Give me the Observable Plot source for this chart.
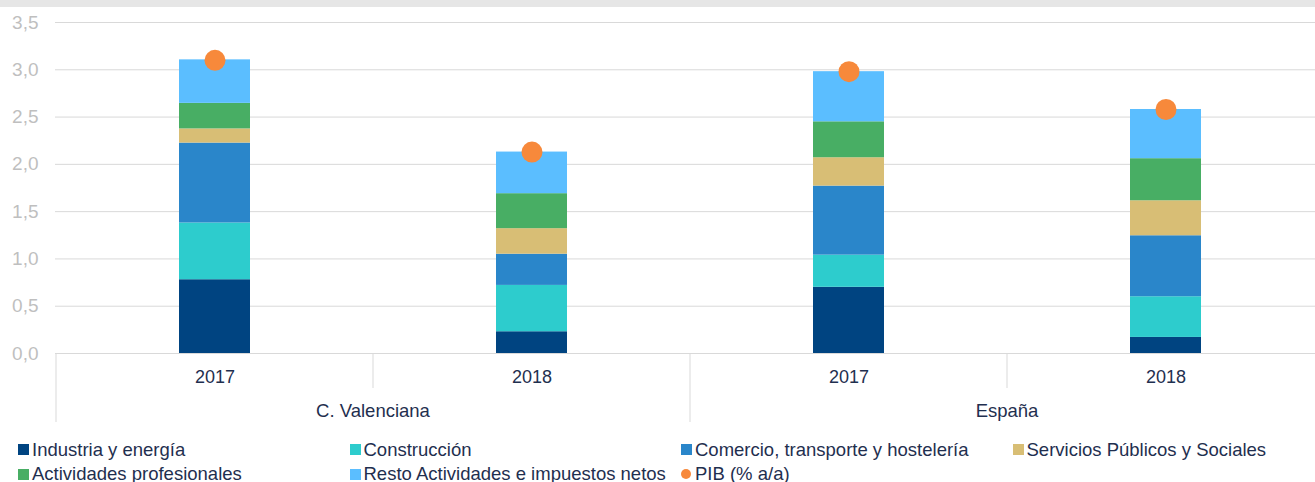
<!DOCTYPE html>
<html>
<head>
<meta charset="utf-8">
<script src="https://cdn.jsdelivr.net/npm/d3@7"></script>
<script src="https://cdn.jsdelivr.net/npm/@observablehq/plot@0.6"></script>
<style>
  body { margin: 0; background: #fff; font-family: "Liberation Sans", Arial, sans-serif; }
  #wrap { position: relative; width: 1315px; height: 482px; overflow: hidden; }
  #strip { position: absolute; left: 0; top: 0; width: 1315px; height: 7px; background: #e6e6e6; z-index: 2; }
  #chart { position: absolute; left: 0; top: 0; }
  #legend { position: absolute; left: 0; top: 0; width: 1315px; height: 482px; }
  .item { position: absolute; display: flex; align-items: center; font-size: 18.5px; color: #1f2f4f; white-space: nowrap; height: 20px; }
  .sw { width: 11px; height: 11px; margin-right: 3px; flex: none; }
  .sw.round { width: 10px; height: 10px; border-radius: 50%; margin-right: 4px; }
</style>
</head>
<body>
<div id="wrap">
  <div id="strip"></div>
  <div id="chart"></div>
  <div id="legend"></div>
</div>
<script>
// ---- data ----
const regions = ["C. Valenciana", "C. Valenciana", "España", "España"];
const years = ["2017", "2018", "2017", "2018"];
const series = [
  "Industria y energía",
  "Construcción",
  "Comercio, transporte y hostelería",
  "Servicios Públicos y Sociales",
  "Actividades profesionales",
  "Resto Actividades e impuestos netos"
];
const industria   = [0.78, 0.23, 0.70, 0.17];
const construccion = [0.60, 0.49, 0.34, 0.43];
const comercio    = [0.845, 0.33, 0.73, 0.645];
const servicios   = [0.15, 0.27, 0.30, 0.37];
const actividades = [0.27, 0.37, 0.38, 0.445];
const resto       = [0.46, 0.44, 0.53, 0.52];
const pib         = [3.10, 2.13, 2.98, 2.58];
const pibLabel = "PIB (% a/a)";
const colors = ["#004481", "#2dcccd", "#2a86ca", "#d8be75", "#48ae64", "#5bbeff"];
const pibColor = "#f7893b";
const yTicks = [0, 0.5, 1, 1.5, 2, 2.5, 3, 3.5];
const yTickLabels = ["0,0", "0,5", "1,0", "1,5", "2,0", "2,5", "3,0", "3,5"];

// ---- build tables ----
const keys = regions.map((r, i) => r + " " + years[i]);
const valuesBySeries = [industria, construccion, comercio, servicios, actividades, resto];
const data = [];
keys.forEach((k, i) => series.forEach((s, j) => data.push({ key: k, series: s, value: valuesBySeries[j][i] })));
const pibData = keys.map((k, i) => ({ key: k, pib: pib[i] }));
const yearData = keys.map((k, i) => ({ key: k, year: years[i] }));

const textColor = "#1f2f4f";
const lineColor = "#d9d9d9";

// separators and region labels, positioned through the plot's scales
function frame(index, scales) {
  const x = scales.x, y = scales.y;
  const bw = typeof x.bandwidth === "function" ? x.bandwidth() : 0;
  const centers = keys.map(k => x(k) + bw / 2);
  const step = centers[1] - centers[0];
  const y0 = y(0);
  const g = d3.create("svg:g");
  keys.forEach((k, i) => {
    const left = centers[i] - step / 2;
    const groupStart = i === 0 || regions[i] !== regions[i - 1];
    g.append("line")
      .attr("x1", left).attr("x2", left)
      .attr("y1", y0).attr("y2", y0 + (groupStart ? 69 : 35))
      .attr("stroke", lineColor);
  });
  const last = centers[centers.length - 1] + step / 2;
  g.append("line").attr("x1", last).attr("x2", last).attr("y1", y0).attr("y2", y0 + 69).attr("stroke", lineColor);
  [...new Set(regions)].forEach(r => {
    const cs = centers.filter((c, i) => regions[i] === r);
    g.append("text")
      .attr("x", d3.mean(cs)).attr("y", y0 + 64)
      .attr("text-anchor", "middle")
      .attr("fill", textColor)
      .attr("font-size", 18.5)
      .text(r);
  });
  return g.node();
}

const chart = Plot.plot({
  width: 1315,
  height: 435,
  marginTop: 22,
  marginBottom: 82,
  marginLeft: 55,
  marginRight: 0,
  style: {
    fontFamily: '"Liberation Sans", Arial, sans-serif',
    fontSize: "19px",
    color: "#bfbfbf",
    background: "transparent",
    overflow: "visible"
  },
  x: { domain: keys, range: [55, 1325], paddingInner: 0.776, paddingOuter: 0.388, axis: null },
  y: {
    domain: [0, 3.5],
    ticks: yTicks,
    tickFormat: d => yTickLabels[yTicks.indexOf(d)],
    tickSize: 0,
    tickPadding: 17,
    label: null
  },
  color: { domain: series, range: colors },
  marks: [
    Plot.ruleY(yTicks, { stroke: lineColor, strokeWidth: 1 }),
    Plot.barY(data, { x: "key", y: "value", fill: "series" }),
    Plot.dot(pibData, { x: "key", y: "pib", r: 10.5, fill: pibColor }),
    Plot.text(yearData, { x: "key", y: () => 0, text: "year", dy: 23.5, fill: textColor, fontSize: 18 }),
    frame
  ]
});
document.getElementById("chart").appendChild(chart);

// ---- legend ----
const legendItems = series.map((s, i) => ({ label: s, color: colors[i], round: false }))
  .concat([{ label: pibLabel, color: pibColor, round: true }]);
const legend = document.getElementById("legend");
legendItems.forEach((it, i) => {
  const col = i % 4, row = Math.floor(i / 4);
  const el = document.createElement("div");
  el.className = "item";
  el.style.left = (18 + col * 331.5) + "px";
  el.style.top = (439.5 + row * 24.5) + "px";
  const sw = document.createElement("span");
  sw.className = "sw" + (it.round ? " round" : "");
  sw.style.background = it.color;
  const tx = document.createElement("span");
  tx.textContent = it.label;
  el.appendChild(sw);
  el.appendChild(tx);
  legend.appendChild(el);
});
</script>
</body>
</html>
